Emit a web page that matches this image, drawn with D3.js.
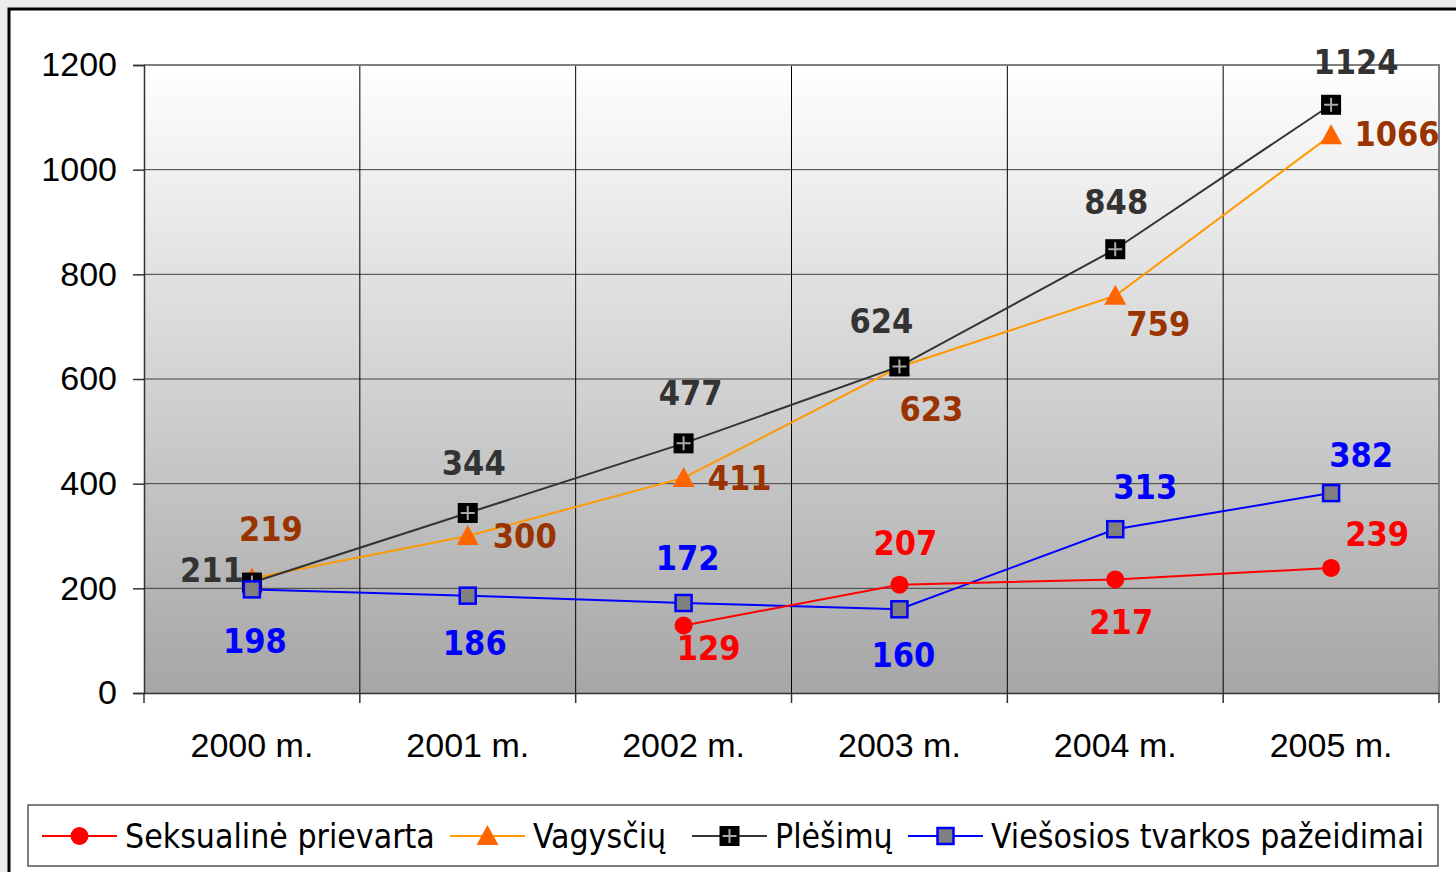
<!DOCTYPE html>
<html>
<head>
<meta charset="utf-8">
<script src="https://cdn.jsdelivr.net/npm/d3@7"></script>
<style>
  body{margin:0;background:#ebebeb;}
  svg{display:block;font-family:"DejaVu Sans Condensed","DejaVu Sans",sans-serif;font-stretch:condensed;}
</style>
</head>
<body>
<script>
const years=["2000 m.","2001 m.","2002 m.","2003 m.","2004 m.","2005 m."];
const seksualine=[null,null,129,207,217,239];
const vagysciu=[219,300,411,623,759,1066];
const plesimu=[211,344,477,624,848,1124];
const viesosios=[198,186,172,160,313,382];
const yTicks=[0,200,400,600,800,1000,1200];
const seriesNames=["Seksualinė prievarta","Vagysčių","Plėšimų","Viešosios tvarkos pažeidimai"];

// label offsets from the point (label centre), one list per series
const offSeks=[null,null,[25,23],[6,-42],[6,43],[46,-34]];
const offVag=[[19,-49],[57,0],[56,0],[32,42],[43,28],[66,-1]];
const offPles=[[-40,-13],[6,-50],[7,-50],[-18,-45],[1,-47],[25,-43]];
const offVies=[[3,52],[7,47],[4,-45],[4,46],[30,-42],[30,-38]];

const w=1456,h=872;
const pLeft=144,pRight=1439,pTop=65,pBottom=693;

const svg=d3.select("body").append("svg").attr("width",w).attr("height",h);

// outer frame
svg.append("rect").attr("x",9).attr("y",9).attr("width",1500).attr("height",900)
   .attr("fill","#fff").attr("stroke","#000").attr("stroke-width",3);

const x=d3.scaleBand().domain(years).range([pLeft,pRight]).paddingInner(0).paddingOuter(0);
const y=d3.scaleLinear().domain([0,1200]).range([pBottom,pTop]);

const defs=svg.append("defs");
const grad=defs.append("linearGradient").attr("id","bg").attr("x1",0).attr("y1",0).attr("x2",0).attr("y2",1);
grad.append("stop").attr("offset","0%").attr("stop-color","#ffffff");
grad.append("stop").attr("offset","100%").attr("stop-color","#a6a6a6");

svg.append("rect").attr("x",pLeft).attr("y",pTop).attr("width",pRight-pLeft).attr("height",pBottom-pTop)
   .attr("fill","url(#bg)");

// horizontal grid
svg.append("g").selectAll("line").data(yTicks.slice(1,-1)).join("line")
   .attr("x1",pLeft).attr("x2",pRight).attr("y1",d=>y(d)).attr("y2",d=>y(d))
   .attr("stroke","#404040").attr("stroke-width",1);
// vertical grid
svg.append("g").selectAll("line").data(years.slice(1)).join("line")
   .attr("x1",d=>x(d)).attr("x2",d=>x(d)).attr("y1",pTop).attr("y2",pBottom)
   .attr("stroke","#000").attr("stroke-width",1);
// plot border top/right
svg.append("path").attr("d",`M${pLeft},${pTop}H${pRight}V${pBottom}`)
   .attr("fill","none").attr("stroke","#808080").attr("stroke-width",2);

// y axis
const yAxis=d3.axisLeft(y).tickValues(yTicks).tickFormat(d3.format("d")).tickSize(11).tickPadding(16);
const gy=svg.append("g").attr("transform",`translate(${pLeft},0)`).call(yAxis);
gy.select(".domain").attr("stroke","#333").attr("stroke-width",1.5);
gy.selectAll(".tick line").attr("stroke","#333").attr("stroke-width",1.5);
gy.selectAll("text").attr("font-size",34).attr("fill","#000").attr("font-family","inherit");

// x axis
const xAxis=d3.axisBottom(x).tickSize(0).tickPadding(40);
const gx=svg.append("g").attr("transform",`translate(0,${pBottom})`).call(xAxis);
gx.select(".domain").attr("stroke","#333").attr("stroke-width",1.5);
gx.selectAll("text").attr("font-size",34).attr("fill","#000").attr("font-family","inherit");
svg.append("g").selectAll("line").data(years.concat(["end"])).join("line")
   .attr("x1",(d,i)=>pLeft+i*x.bandwidth()).attr("x2",(d,i)=>pLeft+i*x.bandwidth())
   .attr("y1",pBottom).attr("y2",pBottom+10).attr("stroke","#333").attr("stroke-width",1.5);

// markers
function marker(g,type,cx,cy){
  if(type==="circle"){
    g.append("circle").attr("cx",cx).attr("cy",cy).attr("r",9).attr("fill","#ff0000");
  } else if(type==="triangle"){
    g.append("path").attr("d",`M${cx},${cy-11}L${cx+11},${cy+9}L${cx-11},${cy+9}Z`).attr("fill","#ff6600");
  } else if(type==="plus"){
    g.append("rect").attr("x",cx-10).attr("y",cy-10).attr("width",20).attr("height",20).attr("fill","#000");
    g.append("path").attr("d",`M${cx-7},${cy}H${cx+7}M${cx},${cy-7}V${cy+7}`)
     .attr("stroke","#aaa").attr("stroke-width",2);
  } else {
    g.append("rect").attr("x",cx-8).attr("y",cy-8).attr("width",16).attr("height",16)
     .attr("fill","#808080").attr("stroke","#0000ff").attr("stroke-width",2.5);
  }
}

const series=[
  {name:seriesNames[1],values:vagysciu,line:"#ff9900",marker:"triangle",label:"#993300",off:offVag},
  {name:seriesNames[2],values:plesimu,line:"#333333",marker:"plus",label:"#333333",off:offPles},
  {name:seriesNames[3],values:viesosios,line:"#0000ff",marker:"square",label:"#0000ff",off:offVies},
  {name:seriesNames[0],values:seksualine,line:"#ff0000",marker:"circle",label:"#ff0000",off:offSeks}
];

const cx=i=>x(years[i])+x.bandwidth()/2;
const line=d3.line().defined(d=>d!=null).x((d,i)=>cx(i)).y(d=>y(d));

series.forEach(s=>{
  const g=svg.append("g");
  g.append("path").datum(s.values).attr("d",line).attr("fill","none")
   .attr("stroke",s.line).attr("stroke-width",2);
  s.values.forEach((v,i)=>{ if(v!=null) marker(g,s.marker,cx(i),y(v)); });
});
series.forEach(s=>{
  svg.append("g").selectAll("text").data(s.values.map((v,i)=>({v,i})).filter(d=>d.v!=null)).join("text")
     .attr("x",d=>cx(d.i)+s.off[d.i][0]).attr("y",d=>y(d.v)+s.off[d.i][1])
     .attr("text-anchor","middle").attr("dominant-baseline","central")
     .attr("font-size",34).attr("font-weight","bold").attr("fill",s.label)
     .text(d=>d.v);
});

// legend
svg.append("rect").attr("x",28).attr("y",805).attr("width",1410).attr("height",61)
   .attr("fill","#fff").attr("stroke","#555").attr("stroke-width",1.5);
const legendItems=[
  {name:seriesNames[0],line:"#ff0000",marker:"circle",x:42},
  {name:seriesNames[1],line:"#ff9900",marker:"triangle",x:450},
  {name:seriesNames[2],line:"#333333",marker:"plus",x:692},
  {name:seriesNames[3],line:"#0000ff",marker:"square",x:908}
];
legendItems.forEach(it=>{
  const g=svg.append("g");
  g.append("line").attr("x1",it.x).attr("x2",it.x+75).attr("y1",836).attr("y2",836)
   .attr("stroke",it.line).attr("stroke-width",2);
  marker(g,it.marker,it.x+37.5,836);
  g.append("text").attr("x",it.x+83).attr("y",836).attr("dominant-baseline","central")
   .attr("font-size",33.5).attr("fill","#000").text(it.name);
});
</script>
</body>
</html>
